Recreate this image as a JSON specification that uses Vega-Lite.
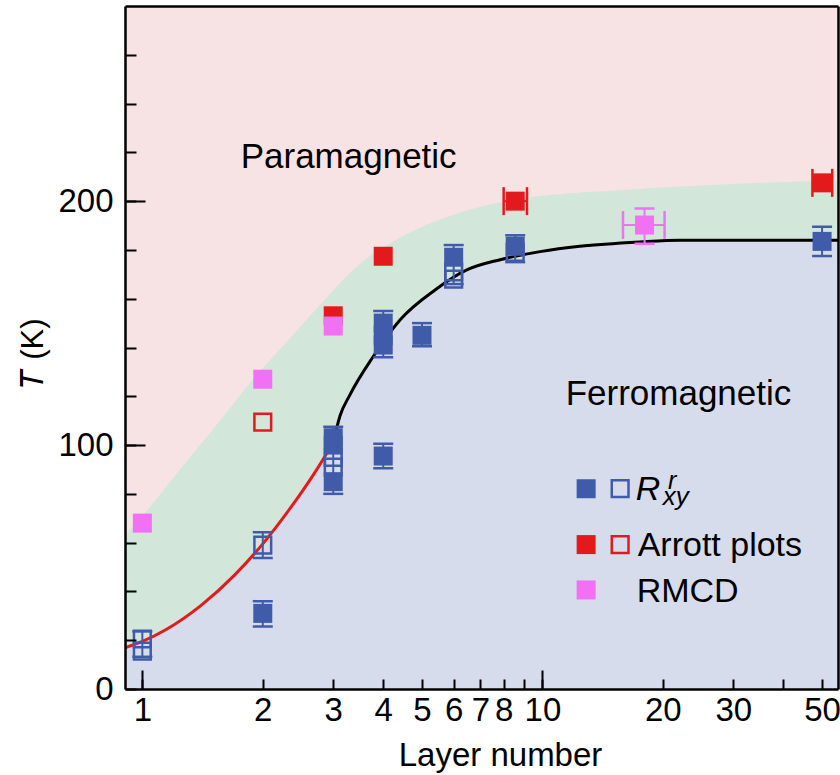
{
  "$schema": "https://vega.github.io/schema/vega-lite/v6.json",
  "width": 713,
  "height": 683,
  "autosize": "none",
  "padding": {"left": 125, "top": 6, "right": 2, "bottom": 86},
  "background": "white",
  "config": {
    "view": {"fill": "#f8e3e4", "stroke": null},
    "font": "Liberation Sans"
  },
  "datasets": {
    "upper": [
      {"n": 0.905, "T": 63}, {"n": 1, "T": 71}, {"n": 1.3, "T": 94}, {"n": 1.6, "T": 112},
      {"n": 1.9, "T": 127.5}, {"n": 2.3, "T": 142.5}, {"n": 2.8, "T": 158}, {"n": 3.3, "T": 170.5},
      {"n": 3.6, "T": 176}, {"n": 4, "T": 181}, {"n": 4.85, "T": 188.5}, {"n": 5.9, "T": 194}, {"n": 7.1, "T": 198},
      {"n": 8.65, "T": 200.8}, {"n": 10.4, "T": 202.5}, {"n": 15.6, "T": 204.5}, {"n": 22, "T": 206},
      {"n": 35, "T": 207.5}, {"n": 54.8, "T": 208.5}
    ],
    "curve": [
      {"seg": "red", "n": 0.905, "T": 16.9}, {"seg": "red", "n": 1, "T": 19.5}, {"seg": "red", "n": 1.15, "T": 24.5},
      {"seg": "red", "n": 1.4, "T": 34.2}, {"seg": "red", "n": 1.7, "T": 46.7}, {"seg": "red", "n": 2, "T": 59.5},
      {"seg": "red", "n": 2.34, "T": 74}, {"seg": "red", "n": 2.68, "T": 88}, {"seg": "red", "n": 3, "T": 101},
      {"seg": "black", "n": 3, "T": 101}, {"seg": "black", "n": 3.12, "T": 112}, {"seg": "black", "n": 3.3, "T": 120.5},
      {"seg": "black", "n": 3.78, "T": 136.4}, {"seg": "black", "n": 4.41, "T": 151.4}, {"seg": "black", "n": 5.4, "T": 163.7},
      {"seg": "black", "n": 6.47, "T": 171.8}, {"seg": "black", "n": 7.84, "T": 176}, {"seg": "black", "n": 9.87, "T": 179.3},
      {"seg": "black", "n": 12.4, "T": 181.5}, {"seg": "black", "n": 17.5, "T": 183.3}, {"seg": "black", "n": 22.1, "T": 184},
      {"seg": "black", "n": 54.8, "T": 184}
    ],
    "filledpts": [
      {"series": "R", "n": 2, "T": 31}, {"series": "R", "n": 3, "T": 103}, {"series": "R", "n": 3, "T": 100},
      {"series": "R", "n": 3, "T": 85}, {"series": "R", "n": 4, "T": 150}, {"series": "R", "n": 4, "T": 145},
      {"series": "R", "n": 4, "T": 141}, {"series": "R", "n": 4, "T": 95.5}, {"series": "R", "n": 5, "T": 145},
      {"series": "R", "n": 6, "T": 177}, {"series": "R", "n": 8.55, "T": 181.5}, {"series": "R", "n": 50, "T": 183.5},
      {"series": "Arrott", "n": 3, "T": 153}, {"series": "Arrott", "n": 4, "T": 177.4},
      {"series": "Arrott", "n": 8.55, "T": 200}, {"series": "Arrott", "n": 50, "T": 207.5},
      {"series": "RMCD", "n": 1, "T": 68}, {"series": "RMCD", "n": 2, "T": 127},
      {"series": "RMCD", "n": 3, "T": 148.8}, {"series": "RMCD", "n": 18, "T": 190.2}
    ],
    "openpts": [
      {"series": "R", "n": 1, "T": 20.5}, {"series": "R", "n": 1, "T": 15.5}, {"series": "R", "n": 2, "T": 59},
      {"series": "R", "n": 3, "T": 95}, {"series": "R", "n": 3, "T": 91}, {"series": "R", "n": 6, "T": 171},
      {"series": "R", "n": 6, "T": 168}, {"series": "R", "n": 8.55, "T": 179},
      {"series": "Arrott", "n": 2, "T": 109.4}
    ],
    "yerr": [
      {"series": "R", "n": 1, "lo": 13.2, "hi": 23.6}, {"series": "R", "n": 2, "lo": 25.6, "hi": 36},
      {"series": "R", "n": 2, "lo": 53.7, "hi": 64.3}, {"series": "R", "n": 3, "lo": 80, "hi": 107.5},
      {"series": "R", "n": 4, "lo": 136, "hi": 155}, {"series": "R", "n": 4, "lo": 90.5, "hi": 100.5},
      {"series": "R", "n": 5, "lo": 140.5, "hi": 150}, {"series": "R", "n": 6, "lo": 166, "hi": 182},
      {"series": "R", "n": 8.55, "lo": 175, "hi": 186}, {"series": "R", "n": 50, "lo": 177.5, "hi": 189.5},
      {"series": "RMCD", "n": 18, "lo": 182.5, "hi": 197}
    ],
    "xerr": [
      {"series": "Arrott", "T": 200, "lo": 8.0, "hi": 9.15},
      {"series": "Arrott", "T": 207.5, "lo": 47.3, "hi": 53.0},
      {"series": "RMCD", "T": 190.2, "lo": 15.9, "hi": 20.2}
    ],
    "legendfilled": [
      {"series": "R", "n": 12.86, "T": 82.1},
      {"series": "Arrott", "n": 12.86, "T": 59.2},
      {"series": "RMCD", "n": 12.86, "T": 40.6}
    ],
    "legendopen": [
      {"series": "R", "n": 15.64, "T": 82.1},
      {"series": "Arrott", "n": 15.64, "T": 59.2}
    ],
    "regions": [
      {"label": "Paramagnetic", "n": 1.761, "T": 213.4},
      {"label": "Ferromagnetic", "n": 11.43, "T": 116.5}
    ],
    "legendtext": [
      {"label": "Arrott plots", "n": 17.3, "T": 54.6},
      {"label": "RMCD", "n": 17.2, "T": 35.8}
    ],
    "legendR": [{"label": "R", "n": 17.1, "T": 77.5}],
    "legendSup": [{"label": "r", "n": 20.6, "T": 82}],
    "legendSub": [{"label": "xy", "n": 20.0, "T": 75.4}]
  },
  "resolve": {"axis": {"x": "independent", "y": "independent"}},
  "layer": [
    {
      "data": {"name": "upper"},
      "mark": {"type": "area", "color": "#d3e6da", "interpolate": "monotone", "clip": true},
      "encoding": {
        "x": {
          "field": "n", "type": "quantitative",
          "scale": {"type": "log", "domain": [0.905, 54.8], "nice": false},
          "axis": {
            "orient": "bottom", "zindex": 1,
            "values": [1, 2, 3, 4, 5, 6, 7, 8, 9, 10, 20, 30, 40, 50],
            "labelExpr": "datum.value == 9 || datum.value == 40 ? '' : format(datum.value, 'd')",
            "tickSize": -10, "tickWidth": 2, "tickColor": "black",
            "domainColor": "black", "domainWidth": 2.5,
            "labelFont": "Liberation Sans", "labelFontSize": 33, "labelColor": "black",
            "labelPadding": 41, "labelBaseline": "alphabetic", "labelFlush": false, "labelOverlap": false,
            "grid": false,
            "title": "Layer number", "titleFont": "Liberation Sans", "titleFontSize": 33, "titleFontWeight": "normal",
            "titleColor": "black", "titleX": 375, "titleY": 76, "titleBaseline": "alphabetic", "titleAlign": "center"
          }
        },
        "y": {
          "field": "T", "type": "quantitative",
          "scale": {"domain": [0, 280], "nice": false, "zero": false},
          "axis": {
            "orient": "left", "zindex": 1,
            "values": [0, 20, 40, 60, 80, 100, 120, 140, 160, 180, 200, 220, 240, 260],
            "labelExpr": "datum.value % 100 == 0 ? format(datum.value, 'd') : ''",
            "tickSize": -11, "tickWidth": 2, "tickColor": "black",
            "domainColor": "black", "domainWidth": 2.5,
            "labelFont": "Liberation Sans", "labelFontSize": 33, "labelColor": "black",
            "labelPadding": 23, "labelFlush": false, "labelOverlap": false,
            "grid": false,
            "title": "𝑇 (K)", "titleFont": "Liberation Sans", "titleFontSize": 31, "titleFontWeight": "normal",
            "titleColor": "black", "titleAngle": 270, "titleX": -92, "titleY": 347,
            "titleAlign": "center", "titleBaseline": "middle"
          }
        },
        "y2": {"datum": 0}
      }
    },
    {
      "data": {"name": "curve"},
      "transform": [{"filter": "!(datum.seg == 'black' && datum.n == 3)"}],
      "mark": {"type": "area", "color": "#d7dcec", "interpolate": "monotone", "clip": true},
      "encoding": {
        "x": {
          "field": "n", "type": "quantitative",
          "axis": {
            "orient": "bottom", "zindex": 1, "values": [1, 10], "tickSize": -19, "tickWidth": 2,
            "tickColor": "black", "labels": false, "domain": false, "grid": false, "title": null
          }
        },
        "y": {
          "field": "T", "type": "quantitative",
          "axis": {
            "orient": "left", "zindex": 1, "values": [100, 200], "tickSize": -20, "tickWidth": 2,
            "tickColor": "black", "labels": false, "domain": false, "grid": false, "title": null
          }
        },
        "y2": {"datum": 0}
      }
    },
    {
      "data": {"name": "curve"},
      "transform": [{"filter": "datum.seg == 'red'"}],
      "mark": {"type": "line", "color": "#e31a1c", "strokeWidth": 3, "interpolate": "monotone", "clip": true},
      "encoding": {
        "x": {
          "field": "n", "type": "quantitative",
          "axis": {
            "orient": "top", "zindex": 1, "ticks": false, "labels": false, "domainColor": "black",
            "domainWidth": 2.5, "grid": false, "title": null
          }
        },
        "y": {
          "field": "T", "type": "quantitative",
          "axis": {
            "orient": "right", "zindex": 1, "ticks": false, "labels": false, "domainColor": "black",
            "domainWidth": 2.5, "grid": false, "title": null
          }
        }
      }
    },
    {
      "data": {"name": "curve"},
      "transform": [{"filter": "datum.seg == 'black'"}],
      "mark": {"type": "line", "color": "black", "strokeWidth": 3, "interpolate": "monotone", "clip": true},
      "encoding": {
        "x": {"field": "n", "type": "quantitative", "axis": null},
        "y": {"field": "T", "type": "quantitative", "axis": null}
      }
    },
    {
      "data": {"name": "yerr"},
      "mark": {"type": "rule", "strokeWidth": 2, "clip": true},
      "encoding": {
        "x": {"field": "n", "type": "quantitative", "axis": null},
        "y": {"field": "lo", "type": "quantitative", "axis": null},
        "y2": {"field": "hi"},
        "color": {"field": "series", "type": "nominal", "scale": {"domain": ["R", "Arrott", "RMCD"], "range": ["#3f5ba9", "#e31a1c", "#f270f4"]}, "legend": null}
      }
    },
    {
      "data": {"name": "yerr"},
      "mark": {"type": "tick", "orient": "horizontal", "size": 20, "thickness": 2.5, "opacity": 1, "clip": true},
      "encoding": {
        "x": {"field": "n", "type": "quantitative", "axis": null},
        "y": {"field": "lo", "type": "quantitative", "axis": null},
        "color": {"field": "series", "type": "nominal", "legend": null}
      }
    },
    {
      "data": {"name": "yerr"},
      "mark": {"type": "tick", "orient": "horizontal", "size": 20, "thickness": 2.5, "opacity": 1, "clip": true},
      "encoding": {
        "x": {"field": "n", "type": "quantitative", "axis": null},
        "y": {"field": "hi", "type": "quantitative", "axis": null},
        "color": {"field": "series", "type": "nominal", "legend": null}
      }
    },
    {
      "data": {"name": "xerr"},
      "mark": {"type": "rule", "strokeWidth": 2, "clip": true},
      "encoding": {
        "x": {"field": "lo", "type": "quantitative", "axis": null},
        "x2": {"field": "hi"},
        "y": {"field": "T", "type": "quantitative", "axis": null},
        "color": {"field": "series", "type": "nominal", "legend": null}
      }
    },
    {
      "data": {"name": "xerr"},
      "mark": {"type": "tick", "orient": "vertical", "size": 28, "thickness": 2.5, "opacity": 1, "clip": true},
      "encoding": {
        "x": {"field": "lo", "type": "quantitative", "axis": null},
        "y": {"field": "T", "type": "quantitative", "axis": null},
        "color": {"field": "series", "type": "nominal", "legend": null}
      }
    },
    {
      "data": {"name": "xerr"},
      "mark": {"type": "tick", "orient": "vertical", "size": 28, "thickness": 2.5, "opacity": 1, "clip": true},
      "encoding": {
        "x": {"field": "hi", "type": "quantitative", "axis": null},
        "y": {"field": "T", "type": "quantitative", "axis": null},
        "color": {"field": "series", "type": "nominal", "legend": null}
      }
    },
    {
      "data": {"name": "filledpts"},
      "mark": {"type": "point", "shape": "square", "filled": true, "size": 361, "opacity": 1, "clip": true},
      "encoding": {
        "x": {"field": "n", "type": "quantitative", "axis": null},
        "y": {"field": "T", "type": "quantitative", "axis": null},
        "color": {"field": "series", "type": "nominal", "legend": null}
      }
    },
    {
      "data": {"name": "openpts"},
      "mark": {"type": "point", "shape": "square", "filled": false, "size": 280, "strokeWidth": 2.5, "opacity": 1, "clip": true},
      "encoding": {
        "x": {"field": "n", "type": "quantitative", "axis": null},
        "y": {"field": "T", "type": "quantitative", "axis": null},
        "color": {"field": "series", "type": "nominal", "legend": null}
      }
    },
    {
      "data": {"name": "legendfilled"},
      "mark": {"type": "point", "shape": "square", "filled": true, "size": 361, "opacity": 1},
      "encoding": {
        "x": {"field": "n", "type": "quantitative", "axis": null},
        "y": {"field": "T", "type": "quantitative", "axis": null},
        "color": {"field": "series", "type": "nominal", "legend": null}
      }
    },
    {
      "data": {"name": "legendopen"},
      "mark": {"type": "point", "shape": "square", "filled": false, "size": 280, "strokeWidth": 2.5, "opacity": 1},
      "encoding": {
        "x": {"field": "n", "type": "quantitative", "axis": null},
        "y": {"field": "T", "type": "quantitative", "axis": null},
        "color": {"field": "series", "type": "nominal", "legend": null}
      }
    },
    {
      "data": {"name": "regions"},
      "mark": {"type": "text", "align": "left", "baseline": "alphabetic", "font": "Liberation Sans", "fontSize": 35, "color": "black"},
      "encoding": {
        "x": {"field": "n", "type": "quantitative", "axis": null},
        "y": {"field": "T", "type": "quantitative", "axis": null},
        "text": {"field": "label"}
      }
    },
    {
      "data": {"name": "legendtext"},
      "mark": {"type": "text", "align": "left", "baseline": "alphabetic", "font": "Liberation Sans", "fontSize": 34, "color": "black"},
      "encoding": {
        "x": {"field": "n", "type": "quantitative", "axis": null},
        "y": {"field": "T", "type": "quantitative", "axis": null},
        "text": {"field": "label"}
      }
    },
    {
      "data": {"name": "legendR"},
      "mark": {"type": "text", "align": "left", "baseline": "alphabetic", "font": "Liberation Sans", "fontStyle": "italic", "fontSize": 34, "color": "black"},
      "encoding": {
        "x": {"field": "n", "type": "quantitative", "axis": null},
        "y": {"field": "T", "type": "quantitative", "axis": null},
        "text": {"field": "label"}
      }
    },
    {
      "data": {"name": "legendSup"},
      "mark": {"type": "text", "align": "left", "baseline": "alphabetic", "font": "Liberation Sans", "fontStyle": "italic", "fontSize": 25, "color": "black"},
      "encoding": {
        "x": {"field": "n", "type": "quantitative", "axis": null},
        "y": {"field": "T", "type": "quantitative", "axis": null},
        "text": {"field": "label"}
      }
    },
    {
      "data": {"name": "legendSub"},
      "mark": {"type": "text", "align": "left", "baseline": "alphabetic", "font": "Liberation Sans", "fontStyle": "italic", "fontSize": 26, "color": "black"},
      "encoding": {
        "x": {"field": "n", "type": "quantitative", "axis": null},
        "y": {"field": "T", "type": "quantitative", "axis": null},
        "text": {"field": "label"}
      }
    }
  ]
}
